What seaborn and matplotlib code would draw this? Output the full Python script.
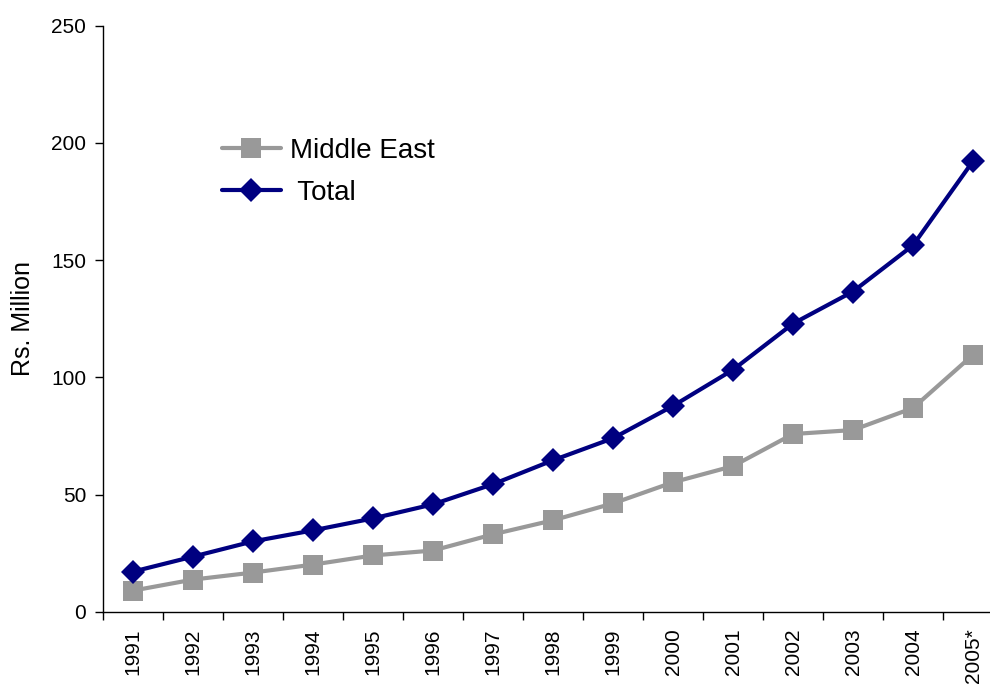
import matplotlib
matplotlib.use("Agg")
import matplotlib.pyplot as plt
import seaborn as sns
import pandas as pd
import numpy as np

years = ["1991", "1992", "1993", "1994", "1995", "1996", "1997", "1998",
         "1999", "2000", "2001", "2002", "2003", "2004", "2005*"]
middle_east = [9.0, 13.7, 16.7, 20.1, 24.0, 26.1, 33.0, 39.0, 46.2, 55.2,
               62.1, 75.8, 77.5, 86.9, 109.6]
total = [17.1, 23.5, 30.0, 34.7, 39.8, 45.8, 54.4, 64.6, 74.0, 87.8,
         103.2, 122.9, 136.6, 156.3, 192.2]
y_ticks = [0, 50, 100, 150, 200, 250]

sns.set_style("white", {"xtick.bottom": True, "ytick.left": True,
                        "text.color": "black", "axes.labelcolor": "black",
                        "xtick.color": "black", "ytick.color": "black",
                        "axes.edgecolor": "black"})
plt.rcParams['font.family'] = ['Liberation Sans', 'DejaVu Sans']

df = pd.DataFrame({"idx": range(len(years)), "Year": years,
                   "Middle East": middle_east, "Total": total})

fig = plt.figure(figsize=(9.9, 6.88), dpi=100)
ax = fig.add_axes([103/990, 76.3/688, 900/990, 586/688])

sns.lineplot(data=df, x="idx", y="Middle East", ax=ax, color="#999999",
             linewidth=3, marker="s", markersize=14, markeredgewidth=0,
             label="Middle East")
sns.lineplot(data=df, x="idx", y="Total", ax=ax, color="#000080",
             linewidth=3, marker="D", markersize=12, markeredgewidth=0,
             label=" Total")

ax.set_xlim(-0.5, len(years) - 0.5)
ax.set_ylim(0, 250)
ax.set_yticks(y_ticks)
ax.set_yticklabels([str(v) for v in y_ticks], fontsize=15)
ax.set_xticks(range(len(years)))
ax.set_xticklabels(years, rotation=90, fontsize=15)
ax.set_xticks(np.arange(-0.5, len(years), 1.0), minor=True)
ax.tick_params(axis="x", which="major", length=0, pad=12, bottom=True)
ax.tick_params(axis="x", which="minor", length=6, width=1, color="black",
               direction="out", bottom=True)
ax.tick_params(axis="y", which="major", length=6, width=1, color="black",
               direction="out", pad=6, left=True)
ax.set_xlabel("")
ax.set_ylabel("Rs. Million", fontsize=18, labelpad=12)

for s in ["top", "right"]:
    ax.spines[s].set_visible(False)
for s in ["left", "bottom"]:
    ax.spines[s].set_color("black")
    ax.spines[s].set_linewidth(1)

ax.legend(loc="upper left", bbox_to_anchor=(0.104, 0.851), frameon=False,
          fontsize=20, handlelength=2.15, labelspacing=0.58, handletextpad=0.3)

fig.savefig("out.png", dpi=100)
